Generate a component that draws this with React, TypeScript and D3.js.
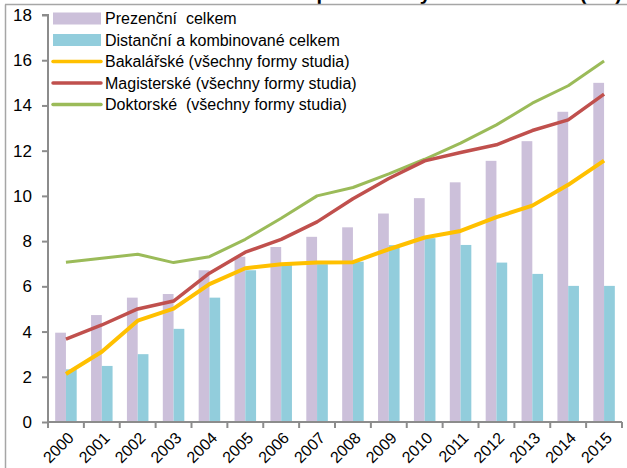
import { useRef, useEffect } from 'react';
import * as d3 from 'd3';

const years = ['2000', '2001', '2002', '2003', '2004', '2005', '2006', '2007', '2008', '2009', '2010', '2011', '2012', '2013', '2014', '2015'];
const prezencni = [3.95, 4.73, 5.5, 5.66, 6.71, 7.31, 7.74, 8.19, 8.61, 9.22, 9.9, 10.6, 11.55, 12.42, 13.72, 15.0];
const distancni = [2.33, 2.48, 3.0, 4.12, 5.5, 6.71, 6.95, 6.98, 7.09, 7.82, 8.13, 7.83, 7.05, 6.55, 6.02, 6.02];
const bakalarske = [2.12, 3.11, 4.48, 5.01, 6.1, 6.8, 6.98, 7.05, 7.07, 7.64, 8.16, 8.45, 9.06, 9.57, 10.49, 11.56];
const magisterske = [3.66, 4.29, 5.0, 5.35, 6.58, 7.51, 8.08, 8.85, 9.87, 10.77, 11.55, 11.92, 12.26, 12.89, 13.36, 14.5];
const doktorske = [7.07, 7.24, 7.42, 7.05, 7.31, 8.08, 9.01, 10.0, 10.37, 10.97, 11.62, 12.33, 13.14, 14.1, 14.87, 15.97];
const yTicks = [0, 2, 4, 6, 8, 10, 12, 14, 16, 18];

const W = 627;
const H = 468;
const PLOT = { left: 48, right: 622, top: 15, bottom: 422 };
const FONT = 'Liberation Sans, Arial, sans-serif';

const C_PREZ = '#ccc0da';
const C_DIST = '#92cddc';
const C_BAK = '#ffc000';
const C_MAG = '#c0504d';
const C_DOK = '#9bbb59';
const C_AXIS = '#8c8c8c';

const legendItems = [
  { label: 'Prezenční  celkem', type: 'bar', color: C_PREZ },
  { label: 'Distanční a kombinované celkem', type: 'bar', color: C_DIST },
  { label: 'Bakalářské (všechny formy studia)', type: 'line', color: C_BAK },
  { label: 'Magisterské (všechny formy studia)', type: 'line', color: C_MAG },
  { label: 'Doktorské  (všechny formy studia)', type: 'line', color: C_DOK },
];

export default function App() {
  const svgRef = useRef<SVGSVGElement>(null);

  useEffect(() => {
    const svg = svgRef.current;
    if (!svg) return;
    const root = d3.select(svg);
    root.selectAll('*').remove();

    const x = d3.scaleBand().domain(years).range([PLOT.left, PLOT.right]).padding(0);
    const y = d3.scaleLinear().domain([0, 18]).range([PLOT.bottom, PLOT.top]);
    const bw = x.bandwidth() * 0.3;
    const cx = (yr: string) => x(yr)! + x.bandwidth() / 2;

    // title, cut off by the top edge as in the original
    root.append('text').attr('x', 622).attr('y', 0).attr('text-anchor', 'end')
      .attr('font-family', FONT).attr('font-weight', 'bold').attr('font-size', 20).attr('fill', '#000')
      .text('Počet studentů podle formy a druhu studia (tis.)');

    // frame
    root.append('line').attr('x1', 5).attr('x2', W).attr('y1', 4.5).attr('y2', 4.5).attr('stroke', '#a6a6a6').attr('stroke-width', 1.5);
    root.append('line').attr('x1', 5.5).attr('x2', 5.5).attr('y1', 4.5).attr('y2', H).attr('stroke', '#a6a6a6').attr('stroke-width', 1.5);

    // bars
    const g = root.append('g');
    g.selectAll('.prez').data(years).join('rect')
      .attr('x', d => cx(d) - bw).attr('width', bw)
      .attr('y', (d, i) => y(prezencni[i])).attr('height', (d, i) => y(0) - y(prezencni[i]))
      .attr('fill', C_PREZ);
    g.selectAll('.dist').data(years).join('rect')
      .attr('x', d => cx(d)).attr('width', bw)
      .attr('y', (d, i) => y(distancni[i])).attr('height', (d, i) => y(0) - y(distancni[i]))
      .attr('fill', C_DIST);

    // lines
    const series = [
      { vals: doktorske, color: C_DOK, w: 3 },
      { vals: magisterske, color: C_MAG, w: 3.5 },
      { vals: bakalarske, color: C_BAK, w: 4 },
    ];
    series.forEach(s => {
      const line = d3.line<number>().x((d, i) => cx(years[i])).y(d => y(d));
      root.append('path').attr('d', line(s.vals)!).attr('fill', 'none')
        .attr('stroke', s.color).attr('stroke-width', s.w).attr('stroke-linejoin', 'round');
    });

    // y axis
    const yG = root.append('g').attr('transform', `translate(${PLOT.left},0)`)
      .call(d3.axisLeft(y).tickValues(yTicks).tickSize(6).tickPadding(10));
    yG.select('.domain').attr('stroke', C_AXIS).attr('stroke-width', 2).attr('d', `M-6,${PLOT.top}H0V${PLOT.bottom}`);
    yG.selectAll('line').attr('stroke', C_AXIS).attr('stroke-width', 2);
    yG.selectAll('text').attr('fill', '#000').attr('font-family', FONT).attr('font-size', 17);

    // x axis
    const xG = root.append('g').attr('transform', `translate(0,${PLOT.bottom})`)
      .call(d3.axisBottom(x).tickSize(0).tickFormat(() => ''));
    xG.select('.domain').attr('stroke', C_AXIS).attr('stroke-width', 2).attr('d', `M${PLOT.left},0H${PLOT.right}`);
    const bounds = years.map(d => x(d)!).concat([PLOT.right]);
    xG.selectAll('.bt').data(bounds).join('line')
      .attr('x1', d => d).attr('x2', d => d).attr('y1', 0).attr('y2', 6)
      .attr('stroke', C_AXIS).attr('stroke-width', 2);
    xG.selectAll('.xl').data(years).join('text')
      .attr('transform', d => `translate(${cx(d) + 1},${9}) rotate(-45)`)
      .attr('text-anchor', 'end').attr('dy', '0.7em')
      .attr('font-family', FONT).attr('font-size', 16).attr('fill', '#000')
      .text(d => d);

    // legend
    const lg = root.append('g');
    legendItems.forEach((it, i) => {
      const cy = 18.5 + i * 21.5;
      if (it.type === 'bar') {
        lg.append('rect').attr('x', 53).attr('y', cy - 6).attr('width', 48).attr('height', 12).attr('fill', it.color);
      } else {
        lg.append('line').attr('x1', 53).attr('x2', 101).attr('y1', cy).attr('y2', cy)
          .attr('stroke', it.color).attr('stroke-width', 3.5).attr('stroke-linecap', 'round');
      }
      lg.append('text').attr('x', 105).attr('y', cy).attr('dy', '0.35em')
        .attr('font-family', FONT).attr('font-size', 16).attr('fill', '#000')
        .style('white-space', 'pre').text(it.label);
    });
  }, []);

  return (
    <div style={{ position: 'fixed', left: 0, top: 0, width: W, height: H, background: '#fff' }}>
      <svg ref={svgRef} width={W} height={H} style={{ display: 'block' }} />
    </div>
  );
}
